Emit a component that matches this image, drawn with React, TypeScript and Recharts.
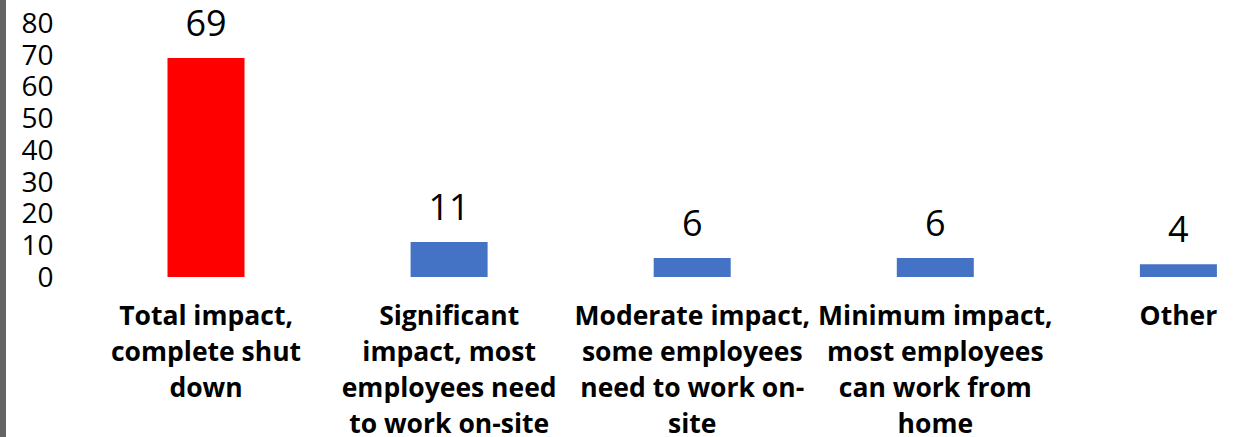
import { BarChart, Bar, XAxis, YAxis, Cell, LabelList } from 'recharts';

const CATEGORIES = [
  'Total impact,\ncomplete shut\ndown',
  'Significant\nimpact, most\nemployees need\nto work on-site',
  'Moderate impact,\nsome employees\nneed to work on-\nsite',
  'Minimum impact,\nmost employees\ncan work from\nhome',
  'Other',
];
const VALUES = [69, 11, 6, 6, 4];
const BAR_COLORS = ['#ff0000', '#4472c4', '#4472c4', '#4472c4', '#4472c4'];
const Y_TICKS = [0, 10, 20, 30, 40, 50, 60, 70, 80];

const FONT = '"Open Sans", "Noto Sans", sans-serif';

const data = CATEGORIES.map((name, i) => ({ name, value: VALUES[i] }));

function CategoryTick({ x, y, payload }: any) {
  const lines = String(payload.value).split('\n');
  return (
    <text
      x={x}
      y={y}
      textAnchor="middle"
      fontFamily={FONT}
      fontWeight={700}
      fontSize={26.5}
      fill="#000"
    >
      {lines.map((line, i) => (
        <tspan key={i} x={x} dy={i === 0 ? '0.7em' : 36}>
          {line}
        </tspan>
      ))}
    </text>
  );
}

export default function App() {
  return (
    <div
      style={{
        position: 'fixed',
        left: 0,
        top: 0,
        width: 1238,
        height: 437,
        overflow: 'hidden',
        background: '#fff',
      }}
    >
      <div style={{ position: 'absolute', left: 0, top: 0 }}>
        <BarChart
          width={1300}
          height={437}
          data={data}
          margin={{ top: 23, right: 0, bottom: 0, left: 0 }}
          style={{ overflow: 'visible' }}
        >
          <XAxis
            dataKey="name"
            axisLine={false}
            tickLine={false}
            tickSize={0}
            tickMargin={29}
            height={160}
            interval={0}
            tick={<CategoryTick />}
          />
          <YAxis
            domain={[0, 80]}
            ticks={Y_TICKS}
            axisLine={false}
            tickLine={false}
            tickSize={0}
            tickMargin={31}
            width={84.5}
            interval={0}
            tick={{ fontSize: 28, fontFamily: FONT, fill: '#000' }}
          />
          <Bar dataKey="value" barSize={77} isAnimationActive={false}>
            {data.map((d, i) => (
              <Cell key={d.name} fill={BAR_COLORS[i]} />
            ))}
            <LabelList
              dataKey="value"
              position="top"
              offset={22}
              fontSize={36}
              fontFamily={FONT}
              fill="#000"
            />
          </Bar>
        </BarChart>
      </div>
      <div
        style={{
          position: 'absolute',
          left: 0,
          top: 0,
          width: 6,
          height: 437,
          background: '#646464',
          zIndex: 5,
        }}
      />
    </div>
  );
}
